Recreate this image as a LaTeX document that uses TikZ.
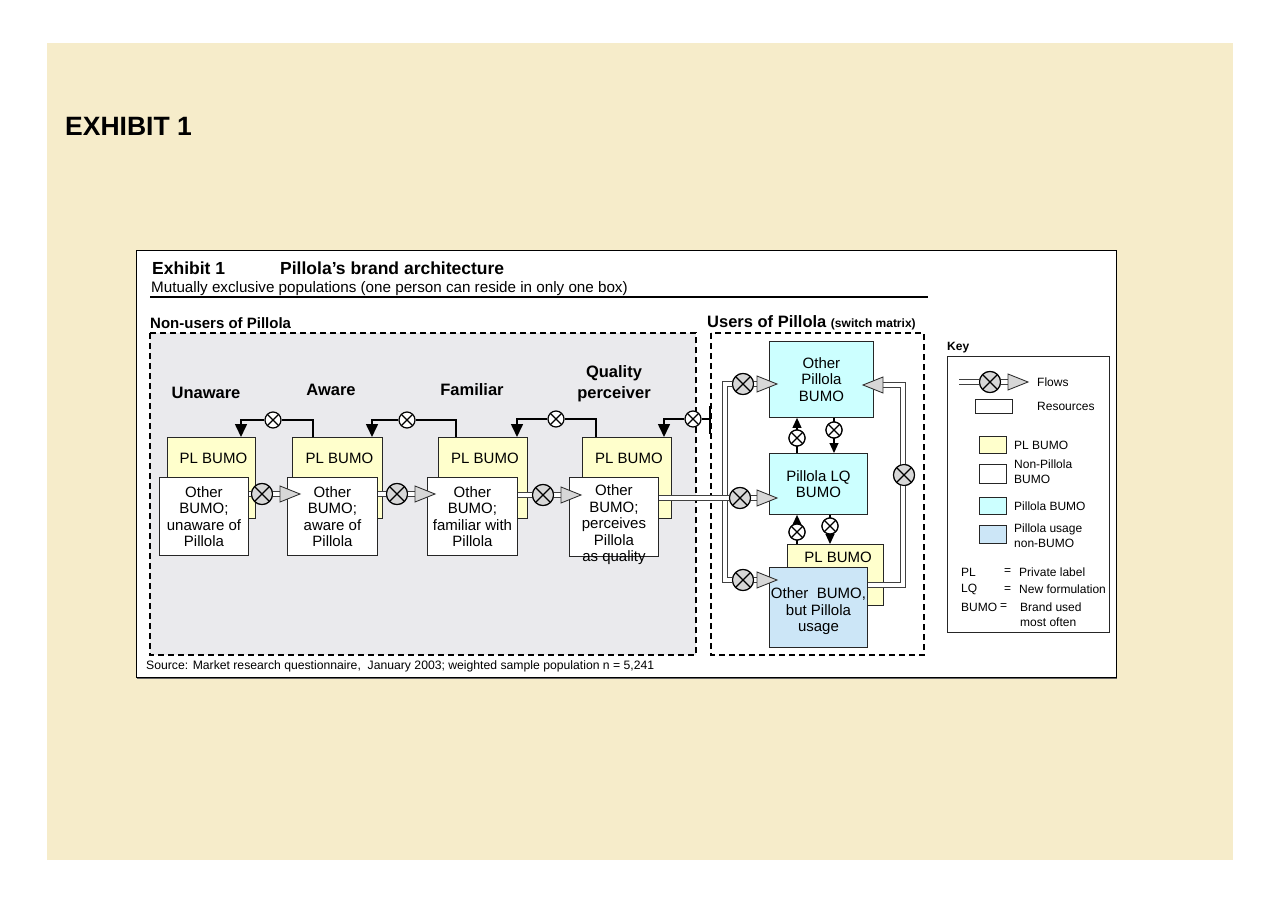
\documentclass[tikz,border=0pt]{standalone}
\usepackage{fontspec}
\setmainfont{Liberation Sans}
\usetikzlibrary{arrows.meta,calc}
\definecolor{cream}{RGB}{246,236,202}
\definecolor{plyellow}{RGB}{255,255,204}
\definecolor{pcyan}{RGB}{204,255,255}
\definecolor{pblue}{RGB}{204,230,247}
\definecolor{regiongray}{RGB}{234,234,237}
\definecolor{valvegray}{RGB}{215,215,215}
\tikzset{
  res/.style={draw=black!85, line width=0.9pt, inner sep=0pt, anchor=north west},
  boxtext/.style={font=\fontsize{15}{16.5}\selectfont, align=center, inner sep=0pt},
  stagelabel/.style={font=\bfseries\fontsize{16.5}{21}\selectfont, align=center, inner sep=0pt},
  keytext/.style={font=\fontsize{12}{15}\selectfont, align=left, inner sep=0pt, anchor=west},
  pipe/.style={draw=black!75, line width=1pt, double=white, double distance=4pt},
  fb/.style={draw=black, line width=1.6pt, -{Triangle[length=13pt,width=12pt]}},
  fbthin/.style={draw=black, line width=1.1pt, -{Triangle[length=10pt,width=9pt]}},
  bigvalve/.style={circle, draw=black, line width=1.1pt, fill=valvegray, minimum size=21pt, inner sep=0pt,
    path picture={\draw[line width=1.1pt] (path picture bounding box.north west) -- (path picture bounding box.south east)
      (path picture bounding box.north east) -- (path picture bounding box.south west);}},
  smallvalve/.style={circle, draw=black, line width=1.2pt, fill=white, minimum size=16pt, inner sep=0pt,
    path picture={\draw[line width=1.2pt] (path picture bounding box.north west) -- (path picture bounding box.south east)
      (path picture bounding box.north east) -- (path picture bounding box.south west);}},
  region/.style={draw=black, line width=1.3pt, dash pattern=on 6pt off 4pt},
  ftip/.pic={\filldraw[fill=valvegray, draw=black!80, line width=0.9pt] (0,-8) -- (20,0) -- (0,8) -- cycle;}
}
\begin{document}
\begin{tikzpicture}[x=1pt,y=-1pt]
\useasboundingbox (0,0) rectangle (1280,904);
\fill[white] (0,0) rectangle (1280,904);
\fill[cream] (47,43) rectangle (1233,860);

% main panel
\draw[black!60, line width=2.5pt] (137,678) -- (1117,678);
\filldraw[fill=white, draw=black, line width=1pt] (136,251) rectangle (1116,677);

\node[anchor=west, inner sep=0pt, font=\bfseries\fontsize{26.5}{30}\selectfont] (exh) at (65,126) {EXHIBIT 1};

\node[anchor=west, inner sep=0pt, font=\bfseries\fontsize{17.5}{20}\selectfont] (t1) at (152,268) {Exhibit 1};
\node[anchor=west, inner sep=0pt, font=\bfseries\fontsize{17.5}{20}\selectfont] (t2) at (280,268) {Pillola’s brand architecture};
\node[anchor=west, inner sep=0pt, font=\fontsize{15.2}{17}\selectfont] (t3) at (151,289) {Mutually exclusive populations (one person can reside in only one box)};
\coordinate (ul1) at (150,297);
\coordinate (ul2) at (928,297);
\draw[line width=2pt] (ul1) -- (ul2);

\node[anchor=west, inner sep=0pt, font=\bfseries\fontsize{15}{18}\selectfont] (nu) at (150,323) {Non-users of Pillola};
\node[anchor=west, inner sep=0pt, font=\bfseries\fontsize{16.5}{18}\selectfont] (us) at (707,323) {Users of Pillola \fontsize{12}{14}\selectfont(switch matrix)};

% regions
\filldraw[region, fill=regiongray] (150,333) rectangle (696,655);
\draw[region] (711,333) rectangle (924,655);

% stage labels
\node[stagelabel] (l1) at (206,393) {Unaware};
\node[stagelabel] (l2) at (331,390) {Aware};
\node[stagelabel] (l3) at (472,390) {Familiar};
\node[stagelabel] (l4) at (614,384) {Quality\\perceiver};

% yellow PL boxes
\node[res, fill=plyellow, minimum width=88pt, minimum height=81pt] (y1) at (167,437) {};
\node[res, fill=plyellow, minimum width=90pt, minimum height=81pt] (y2) at (292,437) {};
\node[res, fill=plyellow, minimum width=89pt, minimum height=81pt] (y3) at (438,437) {};
\node[res, fill=plyellow, minimum width=89pt, minimum height=81pt] (y4) at (582,437) {};
\foreach \i in {1,2,3,4}{
  \node[boxtext] (py\i) at ($(y\i.north)+(2,21)$) {PL BUMO};
}

% white boxes
\node[res, fill=white, minimum width=89pt, minimum height=78pt] (w1) at (159,477) {};
\node[res, fill=white, minimum width=90pt, minimum height=78pt] (w2) at (287,477) {};
\node[res, fill=white, minimum width=90pt, minimum height=78pt] (w3) at (427,477) {};
\node[res, fill=white, minimum width=89pt, minimum height=79pt] (w4) at (569,477) {};
\node[boxtext] (wt1) at (w1.center) {Other\\BUMO;\\unaware of\\Pillola};
\node[boxtext] (wt2) at (w2.center) {Other\\BUMO;\\aware of\\Pillola};
\node[boxtext] (wt3) at (w3.center) {Other\\BUMO;\\familiar with\\Pillola};
\node[boxtext] (wt4) at ($(w4.center)+(0,8)$) {Other\\BUMO;\\perceives\\Pillola\\as quality};

% flows between stages
\node[bigvalve] (v1) at (262,494) {};
\node[bigvalve] (v2) at (397,494) {};
\node[bigvalve] (v3) at (543,495) {};
\coordinate (tp1) at (280,494);
\coordinate (tp2) at (415,494);
\coordinate (tp3) at (561,495);
\draw[pipe] (w1.east |- v1) -- (v1) -- (tp1);
\draw[pipe] (w2.east |- v2) -- (v2) -- (tp2);
\draw[pipe] (w3.east |- v3) -- (v3) -- (tp3);
\node[bigvalve] at (v1) {};
\node[bigvalve] at (v2) {};
\node[bigvalve] at (v3) {};
\pic at (tp1) {ftip};
\pic at (tp2) {ftip};
\pic at (tp3) {ftip};

% feedback flows (to PL)
\node[smallvalve] (s1) at (273,420) {};
\node[smallvalve] (s2) at (407,420) {};
\node[smallvalve] (s3) at (556,419) {};
\node[smallvalve] (s4) at (693,419) {};
\coordinate (bar) at (710,419);
\coordinate (bart) at (710,406);
\coordinate (barb) at (710,434);
\draw[fb] ([xshift=21pt]y2.north west) |- (s1) -| ([xshift=74pt]y1.north west);
\draw[fb] ([xshift=18pt]y3.north west) |- (s2) -| ([xshift=80pt]y2.north west);
\draw[fb] ([xshift=14pt]y4.north west) |- (s3) -| ([xshift=79pt]y3.north west);
\draw[fb] (bar) -- (s4) -| ([xshift=82pt]y4.north west);
\draw[line width=2.2pt] (bart) -- (barb);

% users boxes
\node[res, fill=pcyan, minimum width=104pt, minimum height=76pt] (op) at (769,341) {};
\node[boxtext] (opt) at (op.center) {Other\\Pillola\\BUMO};
\node[res, fill=pcyan, minimum width=98pt, minimum height=61pt] (lq) at (769,453) {};
\node[boxtext] (lqt) at (lq.center) {Pillola LQ\\BUMO};
\node[res, fill=plyellow, minimum width=96pt, minimum height=61pt] (pl) at (787,544) {};
\node[boxtext] (plt) at (838,557) {PL BUMO};
\node[res, fill=pblue, minimum width=98pt, minimum height=80pt] (ob) at (769,567) {};
\node[boxtext] (obt) at ($(ob.center)+(0,4)$) {Other\ \ BUMO,\\but Pillola\\usage};

% switch arrows
\node[smallvalve] (a1) at (797,438) {};
\node[smallvalve] (a2) at (834,430) {};
\node[smallvalve] (a3) at (797,532) {};
\node[smallvalve] (a4) at (830,526) {};
\draw[fbthin] (lq.north -| a1) -- (op.south -| a1);
\draw[fbthin] (op.south -| a2) -- (lq.north -| a2);
\draw[fbthin] (pl.north -| a3) -- (lq.south -| a3);
\draw[fbthin] (lq.south -| a4) -- (pl.north -| a4);
\node[smallvalve] at (a1) {};
\node[smallvalve] at (a2) {};
\node[smallvalve] at (a3) {};
\node[smallvalve] at (a4) {};

% flows into users
\coordinate (jt) at (725,384);
\coordinate (jb) at (725,580);
\node[bigvalve] (ut) at (743,384) {};
\node[bigvalve] (um) at (740,498) {};
\node[bigvalve] (ub) at (743,580) {};
\coordinate (ttp) at (757,384);
\coordinate (tmp) at (757,498);
\coordinate (tbp) at (757,580);
\draw[pipe] (ut) -- (jt) -- (jb) -- (ub);
\draw[pipe] (w4.east |- um) -- (um);
\draw[pipe] (ut) -- (ttp);
\draw[pipe] (um) -- (tmp);
\draw[pipe] (ub) -- (tbp);
\node[bigvalve] at (ut) {};
\node[bigvalve] at (um) {};
\node[bigvalve] at (ub) {};
\pic at (ttp) {ftip};
\pic at (tmp) {ftip};
\pic at (tbp) {ftip};

% return loop
\coordinate (rb) at (903,585);
\coordinate (rt) at (903,385);
\coordinate (rtp) at (883,385);
\node[bigvalve] (ur) at (904,475) {};
\draw[pipe] (ob.east |- rb) -- (rb) -- (rt) -- (rtp);
\node[bigvalve] at (ur) {};
\pic[rotate=180] at (rtp) {ftip};

% key
\node[anchor=west, inner sep=0pt, font=\bfseries\fontsize{12}{14}\selectfont] (keyl) at (947,348) {Key};
\draw[black!85, line width=1pt] (947,356) rectangle (1109,632);
\coordinate (kf0) at (959,382);
\coordinate (kf1) at (1008,382);
\node[bigvalve] (kv) at (990,382) {};
\draw[pipe] (kf0) -- (kv) -- (kf1);
\node[bigvalve] at (kv) {};
\pic at (kf1) {ftip};
\node[keytext] (kft) at (1037,382) {Flows};
\node[res, fill=white, minimum width=37pt, minimum height=14pt] (kr) at (975,399) {};
\node[keytext] (krt) at (1037,406) {Resources};
\node[res, fill=plyellow, minimum width=27pt, minimum height=17pt] (k1) at (979,436) {};
\node[keytext] (k1t) at (1014,445) {PL BUMO};
\node[res, fill=white, minimum width=27pt, minimum height=19pt] (k2) at (979,464) {};
\node[keytext] (k2t) at (1014,472) {Non-Pillola\\BUMO};
\node[res, fill=pcyan, minimum width=27pt, minimum height=17pt] (k3) at (979,497) {};
\node[keytext] (k3t) at (1014,506) {Pillola BUMO};
\node[res, fill=pblue, minimum width=27pt, minimum height=18pt] (k4) at (979,525) {};
\node[keytext] (k4t) at (1014,536) {Pillola usage\\non-BUMO};
\node[keytext] (a1l) at (961,572) {PL};
\node[keytext] (a1e) at (1004,572) {=};
\node[keytext] (a1d) at (1019,572) {Private label};
\node[keytext] (a2l) at (961,589) {LQ};
\node[keytext] (a2e) at (1004,590) {=};
\node[keytext] (a2d) at (1019,589) {New formulation};
\node[keytext] (a3l) at (961,607) {BUMO};
\node[keytext] (a3e) at (1000,607) {=};
\node[keytext] (a3d) at (1020,615) {Brand used\\most often};

\node[anchor=west, inner sep=0pt, font=\fontsize{12.2}{14}\selectfont] (src) at (146,666) {Source: Market research questionnaire,\ \ January 2003; weighted sample population n = 5,241};
\end{tikzpicture}
\end{document}
